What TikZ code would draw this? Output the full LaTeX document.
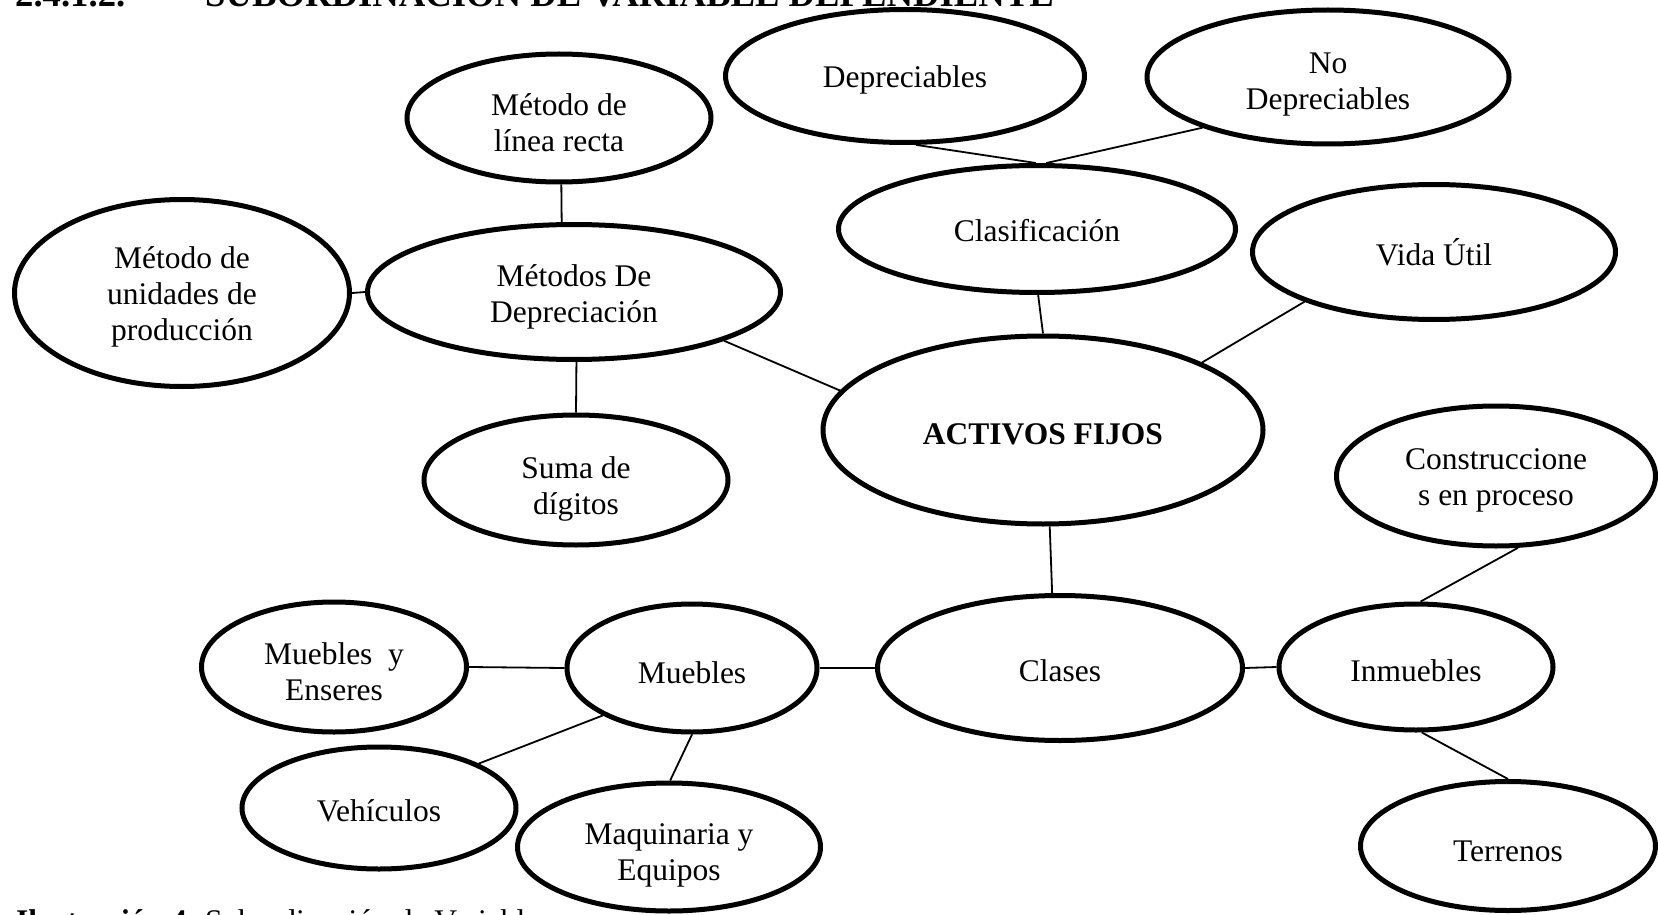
\documentclass[tikz,border=0pt]{standalone}
\usepackage{fontspec}
\setmainfont{Liberation Serif}
\usetikzlibrary{shapes.geometric}
% lower one line of node text by #1 pt, keeping its box size
\newcommand{\lw}[2]{\raisebox{-#1pt}[\height][\depth]{#2}}
\begin{document}
\begin{tikzpicture}[x=1pt,y=-1pt,
  bubble/.style={draw, ellipse, line width=5pt, inner sep=0pt, align=center,
    font=\fontsize{31.5}{36}\selectfont},
  link/.style={line width=1.8pt},
  plain/.style={inner sep=0pt, anchor=base west}]
\useasboundingbox (0,0) rectangle (1658,915);
\clip (0,0) rectangle (1658,915);

% heading and caption (partly outside the page)
\node[plain, font=\fontsize{36.7}{40}\selectfont\bfseries] (num) at (15,7) {2.4.1.2.};
\node[plain, font=\fontsize{36.7}{40}\selectfont\bfseries] (head) at (205,7) {SUBORDINACIÓN DE VARIABLE DEPENDIENTE};
\node[plain, font=\fontsize{31.5}{36}\selectfont] (cap) at (16,931) {\textbf{Ilustración 4.} Subordinación de Variable};

% ellipses
\node[bubble, minimum width=359pt, minimum height=133pt] (dep) at (905,76) {\lw{4}{Depreciables}};
\node[bubble, minimum width=362pt, minimum height=134pt] (nodep) at (1328,77) {\lw{8}{No}\\\lw{8}{Depreciables}};
\node[bubble, minimum width=304pt, minimum height=128pt] (linea) at (559,118) {\lw{5}{Método de}\\\lw{5}{línea recta}};
\node[bubble, minimum width=397pt, minimum height=127pt] (clas) at (1037,229) {\lw{2}{Clasificación}};
\node[bubble, minimum width=363pt, minimum height=135pt] (vida) at (1434,252) {Vida Útil};
\node[bubble, minimum width=335pt, minimum height=187pt] (unid) at (182,293) {\lw{4}{Método de}\\\lw{4}{unidades de}\\\lw{4}{producción}};
\node[bubble, minimum width=413pt, minimum height=135pt] (metodos) at (574,292) {\lw{5}{Métodos De}\\\lw{5}{Depreciación}};
\node[bubble, minimum width=440pt, minimum height=188pt] (activos) at (1043,430) {\lw{4}{\textbf{ACTIVOS FIJOS}}};
\node[bubble, minimum width=304pt, minimum height=130pt] (suma) at (576,480) {\lw{9}{Suma de}\\\lw{9}{dígitos}};
\node[bubble, minimum width=319pt, minimum height=140pt] (const) at (1496,476) {\lw{4}{Construccione}\\\lw{4}{s en proceso}};
\node[bubble, minimum width=265pt, minimum height=130pt] (mye) at (334,667) {\lw{5}{Muebles\ \ y}\\\lw{5}{Enseres}};
\node[bubble, minimum width=250pt, minimum height=128pt] (muebles) at (692,668) {\lw{5}{Muebles}};
\node[bubble, minimum width=365pt, minimum height=145pt] (clases) at (1060,668) {\lw{3}{Clases}};
\node[bubble, minimum width=274pt, minimum height=126pt] (inm) at (1416,667) {\lw{4}{Inmuebles}};
\node[bubble, minimum width=274pt, minimum height=122pt] (veh) at (379,808) {\lw{3}{Vehículos}};
\node[bubble, minimum width=303pt, minimum height=128pt] (maq) at (669,847) {\lw{8}{Maquinaria y}\\\lw{8}{Equipos}};
\node[bubble, minimum width=295pt, minimum height=129pt] (terr) at (1508,846) {\lw{5}{Terrenos}};

% connectors
\draw[link] (dep.-81.5) -- (clas.91.7);
\draw[link] (nodep.-158.4) -- (clas.82.3);
\draw[link] (linea.-88.3) -- (metodos.100.5);
\draw[link] (unid.0) -- (metodos.180);
\draw[link] (metodos.-18.3) -- (activos.169);
\draw[link] (metodos.-88.4) -- (suma.90);
\draw[link] (clas.-89) -- (activos.90.6);
\draw[link] (vida.-159) -- (activos.23.2);
\draw[link] (activos.-86) -- (clases.96);
\draw[link] (mye.0) -- (muebles.180);
\draw[link] (muebles.0) -- (clases.180);
\draw[link] (clases.0) -- (inm.180);
\draw[link] (const.-73.7) -- (inm.86.5);
\draw[link] (inm.-85) -- (terr.90.5);
\draw[link] (muebles.-152.5) -- (veh.24.2);
\draw[link] (muebles.-90.8) -- (maq.89);
\end{tikzpicture}
\end{document}
